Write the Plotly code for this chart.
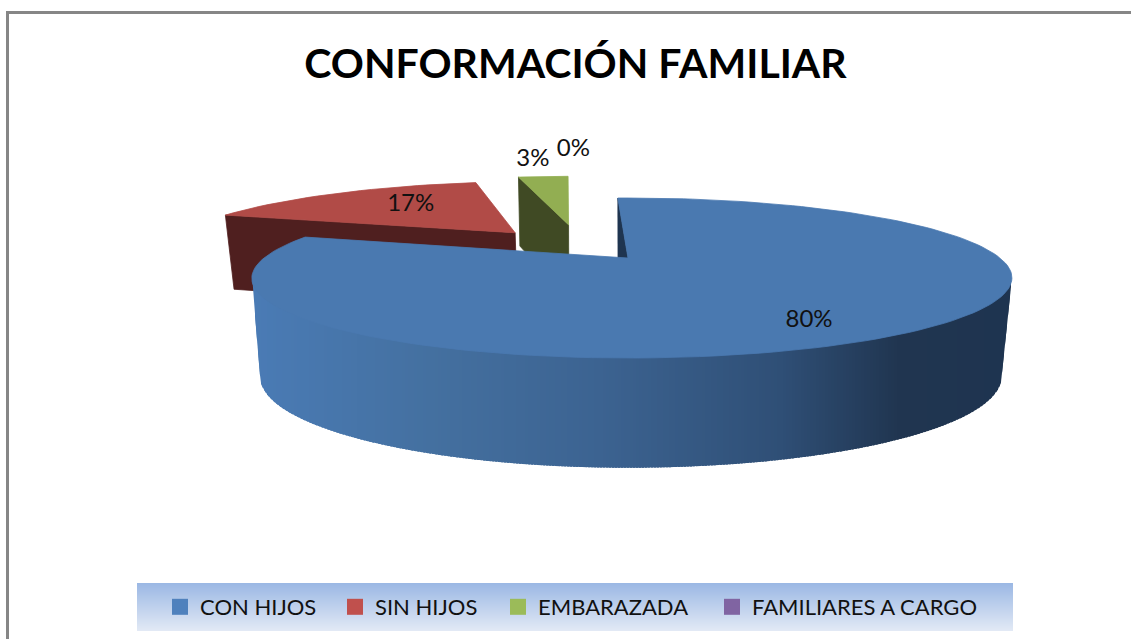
import math
import numpy as np
import plotly.graph_objects as go

title_text = "CONFORMACIÓN FAMILIAR"
categories = ["CON HIJOS", "SIN HIJOS", "EMBARAZADA", "FAMILIARES A CARGO"]
values = [80.4, 16.6, 3.0, 0.0]
legend_colors = ["#4f81bd", "#c0504d", "#9bbb59", "#8064a2"]
top_colors = ["#4a79b0", "#b14b47", "#92ae52", "#7a5f9a"]
wall_colors = ["#1f3550", "#4f1f1f", "#404a24", "#352845"]

explode = [0.0, 0.5, 0.5, 0.5]
screen_dx = [0, 0, -42, -42]
extra_rot = [0, 0, 1.2, 0]
start_deg = -2.0
W, H = 1131, 639
LEGEND_X = [160, 335, 498, 712]


def proj(u, v, plane="top", bottom_dy=0):
    if plane == "top":
        ax, ay, rx, ry, k, bump = 628, 258, 368, 75, 0.25, 4
    else:
        ax, ay, rx, ry, k, bump = 628, 354 + bottom_dy, 359, 85.3, 0.25, 3
    s = 1 / (1 + k * v)
    return ax + rx * u * s + bump * abs(u), ay - ry * v * s


def disk(theta, r=1.0, off=(0, 0)):
    a = math.radians(theta)
    return off[0] + r * math.sin(a), off[1] + r * math.cos(a)


def poly(fig, pts, color, lw=0.8):
    xs = [p[0] for p in pts] + [pts[0][0]]
    ys = [p[1] for p in pts] + [pts[0][1]]
    fig.add_trace(go.Scatter(x=xs, y=ys, mode="lines", fill="toself", fillcolor=color,
                             line=dict(color=color, width=lw), hoverinfo="skip", showlegend=False))


GRAD = [(253, (74, 123, 181)), (430, (68, 112, 160)), (600, (60, 99, 145)),
        (780, (47, 79, 118)), (900, (32, 53, 80)), (1012, (30, 52, 80))]


def side_color(x):
    for (x0, c0), (x1, c1) in zip(GRAD, GRAD[1:]):
        if x <= x1:
            t = max(0, (x - x0) / (x1 - x0))
            return "rgb(%d,%d,%d)" % tuple(round(a + (b - a) * t) for a, b in zip(c0, c1))
    return "rgb(30,52,80)"


fig = go.Figure()

total = sum(values)
spans = []
a0 = start_deg
for i, val in enumerate(values):
    a1 = a0 + val / total * 360
    spans.append((a0 + extra_rot[i], a1 + extra_rot[i]))
    a0 = a1


def slice_geom(i):
    a0, a1 = spans[i]
    bis = (a0 + a1) / 2
    off = disk(bis, explode[i])
    return a0, a1, bis, off


def P(u_v, i, plane="top", bottom_dy=0):
    x, y = proj(u_v[0], u_v[1], plane, bottom_dy)
    return x + screen_dx[i], y


# red then green (behind), blue in front
for i in (1, 2):
    a0, a1, bis, off = slice_geom(i)
    d = -16
    poly(fig, [P(disk(a0, 1, off), i), P(off, i), P(off, i, "b", d), P(disk(a0, 1, off), i, "b", d)], wall_colors[i])
    n = 24
    rim = [P(disk(a0 + (a1 - a0) * j / n, 1, off), i) for j in range(n + 1)]
    poly(fig, [P(off, i)] + rim, top_colors[i])

# blue: radial wall
a0, a1, bis, off = slice_geom(0)
poly(fig, [P(disk(a0), 0), P(off, 0), P(off, 0, "b"), P(disk(a0), 0, "b")], wall_colors[0])

# blue: outer wall as vertical gradient strips
thetas = np.arange(40, min(a1, 320), 0.25)
top_pts = np.array([P(disk(float(t)), 0) for t in thetas])
bot_pts = np.array([P(disk(float(t)), 0, "b") for t in thetas])
il, ir = top_pts[:, 0].argmin(), top_pts[:, 0].argmax()
jl, jr = bot_pts[:, 0].argmin(), bot_pts[:, 0].argmax()
upper = top_pts[ir:il + 1][::-1]
lower_mid = bot_pts[jr:jl + 1][::-1]
lower = np.vstack([top_pts[il], lower_mid, top_pts[ir]])
xa, xb = int(np.ceil(upper[0, 0])), int(np.floor(upper[-1, 0]))
step = 3
for x in range(xa, xb, step):
    x2 = min(x + step + 2, xb)
    xs_s = np.arange(x, x2 + 0.5, 1.0)
    up = np.interp(xs_s, upper[:, 0], upper[:, 1]) - 6
    lo = np.interp(xs_s, lower[:, 0], lower[:, 1])
    pts = list(zip(xs_s, up)) + list(zip(xs_s[::-1], lo[::-1]))
    poly(fig, pts, side_color(x + step / 2), lw=0)

# blue: top face
n = 160
rim = [P(disk(a0 + (a1 - a0) * j / n), 0) for j in range(n + 1)]
poly(fig, [P(off, 0)] + rim, top_colors[0])

# percentage labels
label_r = [0.72, 0.72, 1.22, 1.3]
label_d = [(-8, 13), (28, 2), (-6, -8), (3, -15)]
lx, ly, lt = [], [], []
for i, val in enumerate(values):
    a0, a1, bis, off = slice_geom(i)
    x, y = P(disk(bis, label_r[i], off), i)
    lx.append(x + label_d[i][0])
    ly.append(y + label_d[i][1])
    lt.append(f"{round(val)}%")
fig.add_trace(go.Scatter(x=lx, y=ly, text=lt, mode="text", textposition="middle center",
                         textfont=dict(family="Lato", size=24, color="#111111"),
                         hoverinfo="skip", showlegend=False))

# legend entries
for i, name in enumerate(categories):
    key = "legend" if i == 0 else f"legend{i + 1}"
    fig.add_trace(go.Scatter(x=[None], y=[None], mode="markers", name=name, legend=key,
                             marker=dict(symbol="square", size=16, color=legend_colors[i])))

# legend band with vertical gradient
shapes = []
BAND_TOP, BAND_BOTTOM = 583, 631
c0, c1 = (155, 184, 228), (226, 233, 245)
for row in range(BAND_TOP, BAND_BOTTOM):
    t = (row - BAND_TOP) / (BAND_BOTTOM - BAND_TOP - 1)
    col = "rgb(%d,%d,%d)" % tuple(round(a + (b - a) * t) for a, b in zip(c0, c1))
    shapes.append(dict(type="rect", xref="x", yref="y", x0=137, x1=1013, y0=row, y1=row + 1,
                       fillcolor=col, line_width=0, layer="below"))
# chart frame
shapes.append(dict(type="rect", xref="x", yref="y", x0=6, x1=9, y0=11, y1=639, fillcolor="#868686", line_width=0, layer="below"))
shapes.append(dict(type="rect", xref="x", yref="y", x0=6, x1=1131, y0=11, y1=14, fillcolor="#868686", line_width=0, layer="below"))

layout = dict(
    width=W, height=H, margin=dict(l=0, r=0, t=0, b=0),
    paper_bgcolor="white", plot_bgcolor="white", shapes=shapes,
    xaxis=dict(range=[0, W], visible=False, fixedrange=True),
    yaxis=dict(range=[H, 0], visible=False, fixedrange=True),
    title=dict(text=title_text, x=575.5 / W, xanchor="center", y=1 - 64 / H, yanchor="middle",
               font=dict(family="Lato", size=41, color="#000000", weight=700)),
    showlegend=True,
)
for i in range(len(categories)):
    key = "legend" if i == 0 else f"legend{i + 1}"
    layout[key] = dict(x=LEGEND_X[i] / W, xanchor="left", y=1 - 607 / H, yanchor="middle",
                       bgcolor="rgba(0,0,0,0)", borderwidth=0, orientation="h",
                       font=dict(family="Lato", size=22, color="#111111"))
fig.update_layout(**layout)
fig.write_html("out.html", config={"displayModeBar": False},
               post_script="document.body.style.margin='0';")
